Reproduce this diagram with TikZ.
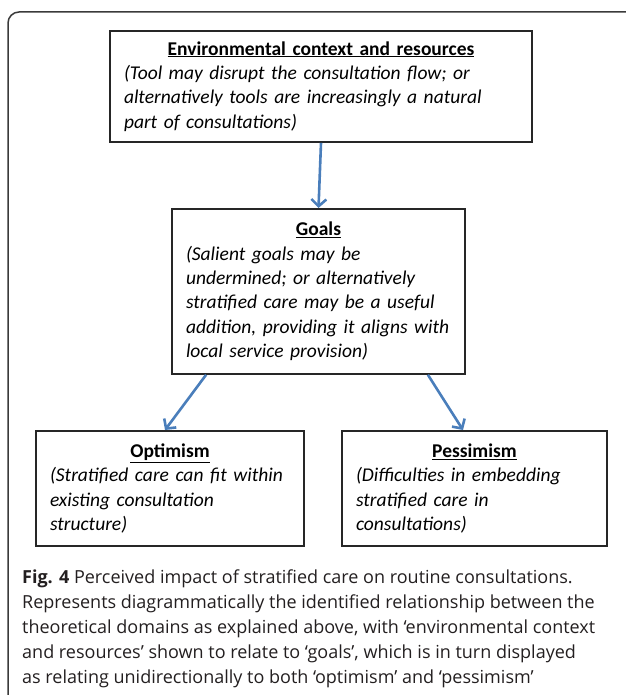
\documentclass[tikz,border=0pt]{standalone}
\usepackage{fontspec}
\setmainfont{Carlito}
\newfontfamily\capfont{Open Sans}
\usetikzlibrary{arrows.meta}
\definecolor{flowblue}{HTML}{4A7EBB}
\definecolor{framegray}{HTML}{3A3A3A}
\definecolor{captext}{HTML}{231F20}
\tikzset{
  domainbox/.style={draw=black!85, line width=1.8pt, inner xsep=14pt, inner ysep=0pt,
    align=left, anchor=north, font=\fontsize{19.5}{24.4}\selectfont},
  flow/.style={draw=flowblue, line width=2.6pt, -{Straight Barb[length=7pt,width=15pt]}},
}
\newcommand{\boxtitle}[1]{{\centering\bfseries\underline{#1}\par}\itshape}
\begin{document}
\begin{tikzpicture}[x=1pt,y=-1pt]
\useasboundingbox (0,0) rectangle (625,695);
% outer figure frame, open at right and bottom
\draw[framegray, line width=1.5pt, rounded corners=11pt] (8,700) -- (8,12) -- (630,12);

% domain boxes
\node[domainbox, text width=394pt, minimum height=111pt] (env) at (321,30)
  {\boxtitle{Environmental context and resources}(Tool may disrupt the consultation flow; or\\
   alternatively tools are increasingly a natural\\ part of consultations)};
\node[domainbox, text width=265pt, minimum height=165pt] (goals) at (318.5,208)
  {\boxtitle{Goals}(Salient goals may be\\ undermined; or alternatively\\
   stratified care may be a useful\\ addition, providing it aligns with\\ local service provision)};
\node[domainbox, text width=240pt, minimum height=115pt] (opt) at (170,430)
  {\boxtitle{Optimism}(Stratified care can fit within\\ existing consultation\\ structure)};
\node[domainbox, text width=237pt, minimum height=115pt] (pes) at (474.5,430)
  {\boxtitle{Pessimism}(Difficulties in embedding\\ stratified care in\\ consultations)};

% relations between domains
\draw[flow] (env.south) -- (goals.north);
\draw[flow] ([xshift=35pt]goals.south west) -- ([xshift=-5pt]opt.north);
\draw[flow] ([xshift=-38pt]goals.south east) -- ([xshift=-11.5pt]pes.north);

% caption
\node[anchor=north west, align=left, inner sep=0pt, text=captext,
  font=\capfont\fontsize{18}{24.8}\selectfont] (cap) at (22,570)
  {\textbf{Fig. 4} Perceived impact of stratified care on routine consultations.\\
   Represents diagrammatically the identified relationship between the\\
   theoretical domains as explained above, with ‘environmental context\\
   and resources’ shown to relate to ‘goals’, which is in turn displayed\\
   as relating unidirectionally to both ‘optimism’ and ‘pessimism’};
\end{tikzpicture}
\end{document}
